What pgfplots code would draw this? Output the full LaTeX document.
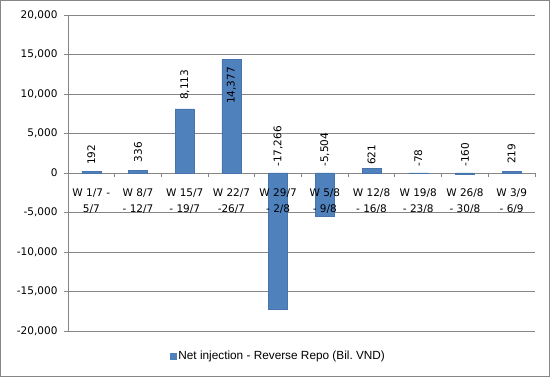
\documentclass[border=0pt]{standalone}
\usepackage{fontspec}
\setmainfont{DejaVu Sans}
\newfontfamily\legfont{Liberation Sans}
\usepackage{pgfplots}
\pgfplotsset{compat=1.18}
\usepackage{pgfplotstable}
\definecolor{barblue}{HTML}{4F81BD}
\definecolor{gridgray}{HTML}{868686}

\pgfplotsset{
  /pgfplots/layers/mylayers/.define layer set={axis background,axis grid,axis ticks,axis lines,pre main,main,axis tick labels,axis descriptions,axis foreground}{/pgfplots/layers/standard},
}

\pgfplotstableread{
x y ly lab
0 192 1013 192
1 336 1354 336
2 8113 9241 8,113
3 14377 8734 14,377
4 -17266 797 -17,266
5 -5504 797 -5,504
6 621 1013 621
7 -78 797 -78
8 -160 797 -160
9 219 1139 219
}\data

\begin{document}
\begin{tikzpicture}
\draw[gridgray, line width=1pt] (0.5pt,0.5pt) rectangle (549.5pt,376.5pt);
\begin{axis}[
  set layers=mylayers,
  at={(68pt,46pt)}, anchor=south west,
  width=467pt, height=316pt, scale only axis,
  xmin=-0.5, xmax=9.5, ymin=-20000, ymax=20000,
  axis x line=middle, axis y line=left,
  axis line style={gridgray, -, line width=0.8pt},
  ytick={-20000,-15000,...,20000},
  scaled y ticks=false,
  ymajorgrids, grid style={gridgray, line width=0.8pt},
  yticklabel style={font=\fontsize{10.5}{12}\selectfont, xshift=-3pt},
  /pgf/number format/.cd, fixed, 1000 sep={,}, assume math mode=true, /pgfplots/.cd,
  xtick={0,...,9},
  xticklabels={{W 1/7 -\\5/7},{W 8/7\\- 12/7},{W 15/7\\- 19/7},{W 22/7\\-26/7},{W 29/7\\- 2/8},{W 5/8\\- 9/8},{W 12/8\\- 16/8},{W 19/8\\- 23/8},{W 26/8\\- 30/8},{W 3/9\\- 6/9}},
  xticklabel style={align=center, font=\fontsize{10.5}{16}\selectfont, yshift=-8pt},
  major x tick style={draw=none},
  minor xtick={-0.5,0.5,...,9.5},
  tick align=outside,
  major tick length=4pt, minor tick length=4pt,
  tick style={gridgray, line width=0.8pt},
  clip=false,
  legend style={draw=none, font=\legfont\fontsize{11.8}{13}\selectfont, at={(0.216,-0.079)}, anchor=west, inner sep=1pt},
]
\addplot[ybar, bar width=19pt, bar shift=0pt, fill=barblue, draw=barblue!90!black, line width=0.3pt,
  legend image code/.code={\fill[barblue] (0pt,-3pt) rectangle (6pt,3pt);}]
  table[x=x, y=y] {\data};
\addlegendentry{Net injection - Reverse Repo (Bil.\ VND)}
\addplot[draw=none, mark=none, forget plot, nodes near coords, point meta=explicit symbolic,
  every node near coord/.append style={rotate=90, anchor=west, inner sep=0pt, font=\fontsize{10.5}{12}\selectfont, text=black}]
  table[x=x, y=ly, meta=lab] {\data};
\end{axis}
\end{tikzpicture}
\end{document}
